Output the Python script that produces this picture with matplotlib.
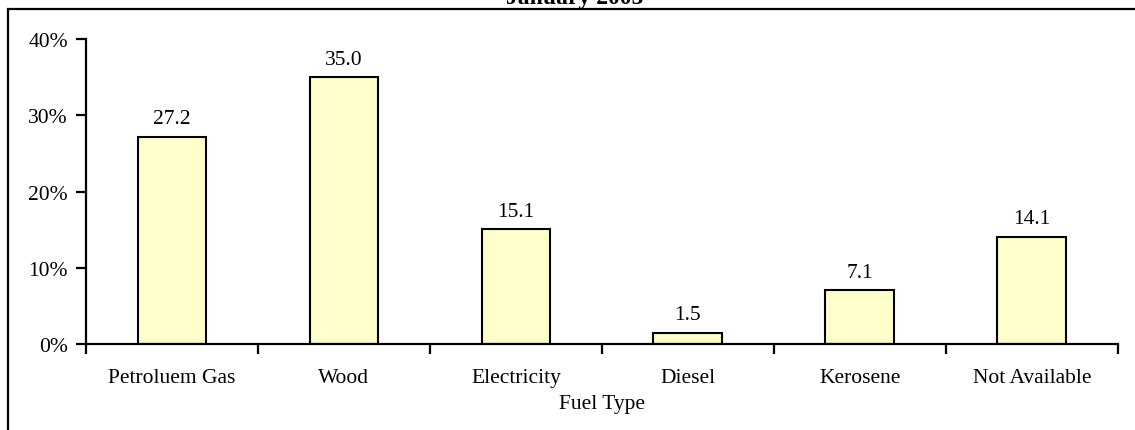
import numpy as np
import matplotlib.pyplot as plt
from matplotlib.patches import Rectangle
from matplotlib.ticker import FuncFormatter

# data to plot
fuels = ['Petroluem Gas', 'Wood', 'Electricity', 'Diesel', 'Kerosene', 'Not Available']
shares = [27.2, 35.0, 15.1, 1.5, 7.1, 14.1]

plt.rcParams['font.family'] = 'Liberation Serif'

fig = plt.figure(figsize=(11.35, 4.31), dpi=100)
ax = fig.add_axes([0.0758, 0.1995, 0.909, 0.7075])

# outer frame (cut off at right and bottom)
fig.patches.append(Rectangle((8 / 1135, -0.1), 1.2, 1.1 - 10 / 431,
                             transform=fig.transFigure, fill=False,
                             edgecolor='black', linewidth=1.6))

index = np.arange(len(fuels))
bars = ax.bar(index, shares, 0.4, color='#FFFFCC', edgecolor='black', linewidth=1.5)

for rect, v in zip(bars, shares):
    ax.annotate('%.1f' % v, (rect.get_x() + rect.get_width() / 2, v),
                xytext=(0, 6), textcoords='offset points',
                ha='center', va='bottom', fontsize=15.5)

ax.set_xlim(-0.5, len(fuels) - 0.5)
ax.set_ylim(0, 40)
ax.set_yticks([0, 10, 20, 30, 40])
ax.yaxis.set_major_formatter(FuncFormatter(lambda y, p: '%d%%' % y))

# category boundary ticks, labels at centres
ax.set_xticks(np.arange(len(fuels) + 1) - 0.5)
ax.set_xticklabels([])
ax.set_xticks(index, minor=True)
ax.set_xticklabels(fuels, minor=True, fontsize=15.5)
ax.tick_params(axis='x', which='minor', length=0, pad=17)
ax.tick_params(axis='x', which='major', length=7, width=1.6, direction='out')
ax.tick_params(axis='y', length=7, width=1.6, direction='out', labelsize=15.5, pad=6)

for s in ['top', 'right']:
    ax.spines[s].set_visible(False)
for s in ['left', 'bottom']:
    ax.spines[s].set_linewidth(1.6)

ax.set_xlabel('Fuel Type', fontsize=15.5, labelpad=5)
fig.text(0.506, 1 - 9 / 431, 'January 2005', ha='center', va='bottom',
         fontsize=17, fontweight='bold')

plt.savefig('out.png', dpi=100)
